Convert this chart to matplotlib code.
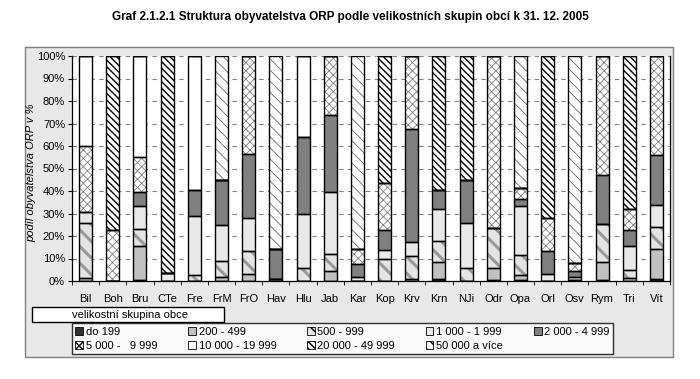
import matplotlib
matplotlib.use("Agg")
import matplotlib.pyplot as plt
import numpy as np
from matplotlib.patches import Rectangle, Patch

plt.rcParams['font.family'] = ['Liberation Sans', 'DejaVu Sans']

cats = ["Bil", "Boh", "Bru", "CTe", "Fre", "FrM", "FrO", "Hav", "Hlu", "Jab", "Kar",
        "Kop", "Krv", "Krn", "NJi", "Odr", "Opa", "Orl", "Osv", "Rym", "Tri", "Vít"]

# shares of population (%) by size group of municipality
do199 = [0, 0, 0.5, 0, 0, 0, 0, 0, 0, 0, 0, 0, 0, 1.0, 0, 0.6, 0.4, 0, 0, 0.3, 0, 0.7]
g200 = [1.2, 0, 15.0, 0, 0, 1.8, 3.0, 1.0, 0, 4.5, 0, 0, 0.8, 7.4, 0, 5.4, 2.1, 0, 0.3, 8.3, 1.5, 13.7]
g500 = [24.4, 0, 7.8, 0, 2.7, 7.2, 10.2, 0, 6.0, 7.5, 0, 10.0, 10.2, 9.4, 6.0, 17.6, 8.9, 0, 0.3, 16.7, 3.2, 9.6]
g1000 = [5.2, 0, 10.0, 3.5, 26.3, 16.0, 14.6, 0, 23.7, 27.5, 2.0, 4.0, 6.3, 14.1, 19.6, 0, 22.1, 3.0, 1.0, 0, 10.8, 9.7]
g2000 = [0, 0, 6.2, 0, 11.5, 20.0, 28.7, 13.2, 34.1, 34.5, 5.5, 8.5, 50.3, 8.5, 19.4, 0, 3.0, 10.4, 3.0, 21.7, 7.1, 22.2]
g5000 = [29.2, 22.7, 15.7, 0, 0, 0, 43.5, 0, 0, 26.0, 6.7, 21.0, 32.4, 0, 0, 76.4, 5.0, 14.4, 3.5, 53.0, 9.2, 44.1]
g10000 = [40.0, 0, 44.8, 0, 59.5, 0, 0, 0, 36.2, 0, 0, 0, 0, 0, 0, 0, 0, 0, 0, 0, 0, 0]
g20000 = [0, 77.3, 0, 96.5, 0, 0, 0, 0, 0, 0, 0, 56.5, 0, 59.6, 55.0, 0, 0, 72.2, 0, 0, 68.2, 0]
g50000 = [0, 0, 0, 0, 0, 55.0, 0, 85.8, 0, 0, 85.8, 0, 0, 0, 0, 0, 58.5, 0, 91.9, 0, 0, 0]

labels = ["do 199", "200 - 499", "500 - 999", "1 000 - 1 999", "2 000 - 4 999",
          "5 000 -   9 999", "10 000 - 19 999", "20 000 - 49 999", "50 000 a více"]
series = [do199, g200, g500, g1000, g2000, g5000, g10000, g20000, g50000]

# (facecolor, hatch, hatch colour, hatch linewidth)
styles = [("#333333", None, None, 0),
          ("#c0c0c0", None, None, 0),
          ("#e4e4e4", "\\\\", "#999999", 2.2),
          ("#e8e8e8", None, None, 0),
          ("#808080", None, None, 0),
          ("white", "xxxx", "#808080", 0.6),
          ("white", None, None, 0),
          ("white", "\\\\\\\\\\", "black", 1.0),
          ("white", "\\\\\\", "#666666", 0.6)]

W, H = 700, 379
fig = plt.figure(figsize=(7, 3.79), dpi=100)

# gray chart frame
fig.add_artist(Rectangle((25 / W, 1 - 357 / H), 648 / W, 310 / H, transform=fig.transFigure,
                         facecolor="#e8e8e8", edgecolor="#808080", lw=1, zorder=0))

ax = fig.add_axes([72 / W, 1 - 281 / H, 598 / W, 225 / H])
ax.set_facecolor("white")

x = np.arange(len(cats))
bw = 0.48
bottom = np.zeros(len(cats))
for vals, (fc, hatch, hc, hlw) in zip(series, styles):
    vals = np.array(vals)
    if hatch:
        with plt.rc_context({'hatch.linewidth': hlw}):
            ax.bar(x, vals, bw, bottom=bottom, color=fc, edgecolor=hc, hatch=hatch, linewidth=0, zorder=2)
    else:
        ax.bar(x, vals, bw, bottom=bottom, color=fc, linewidth=0, zorder=2)
    ax.bar(x, vals, bw, bottom=bottom, fill=False, edgecolor="black", linewidth=1.0, zorder=3)
    bottom += vals

ax.set_xlim(-0.5, len(cats) - 0.5)
ax.set_ylim(0, 100)
ax.set_yticks(np.arange(0, 101, 10))
ax.set_yticklabels([f"{v}%" for v in range(0, 101, 10)], fontsize=8)
ax.set_xticks(x)
ax.set_xticklabels(cats, fontsize=8)
ax.set_xticks(np.arange(-0.5, len(cats), 1), minor=True)
ax.tick_params(axis="x", which="major", length=0, pad=9)
ax.tick_params(axis="x", which="minor", length=3, direction="out")
ax.tick_params(axis="y", length=3, direction="out", pad=2)
ax.yaxis.grid(True, linestyle=(0, (4, 4)), color="#808080", linewidth=0.8)
ax.set_axisbelow(True)
ax.spines["top"].set_visible(False)
for s in ["left", "bottom", "right"]:
    ax.spines[s].set_color("black")
    ax.spines[s].set_linewidth(0.9)
ax.set_ylabel("podíl obyvatelstva ORP v %", fontsize=8, style="italic")
ax.yaxis.set_label_coords((36 - 72) / 598, 0.48)

fig.text(0.5, 1 - 17 / H, "Graf 2.1.2.1 Struktura obyvatelstva ORP podle velikostních skupin obcí k 31. 12. 2005",
         ha="center", va="center", fontsize=8.5, fontweight="bold")

# legend title box
fig.add_artist(Rectangle((32 / W, 1 - 322 / H), 192 / W, 15 / H, transform=fig.transFigure,
                         facecolor="white", edgecolor="black", lw=1, zorder=1))
fig.text(72 / W, 1 - 314.5 / H, "velikostní skupina obce", fontsize=8, va="center", ha="left")

handles = []
for fc, hatch, hc, hlw in styles:
    handles.append(Patch(facecolor=fc, edgecolor="black", hatch=hatch, linewidth=0.6))
order = [0, 5, 1, 6, 2, 7, 3, 8, 4]
leg = fig.legend([handles[i] for i in order], [labels[i] for i in order], ncol=5,
                 loc="lower left", bbox_to_anchor=(72 / W, 1 - 354 / H, 541 / W, 32 / H),
                 mode="expand", fontsize=8, frameon=True, fancybox=False, borderaxespad=0,
                 handlelength=0.7, handleheight=0.7, handletextpad=0.25, labelspacing=0.35,
                 borderpad=0.3, columnspacing=1.0)
leg.get_frame().set_edgecolor("black")
leg.get_frame().set_linewidth(1)

fig.savefig("out.png", dpi=100)
